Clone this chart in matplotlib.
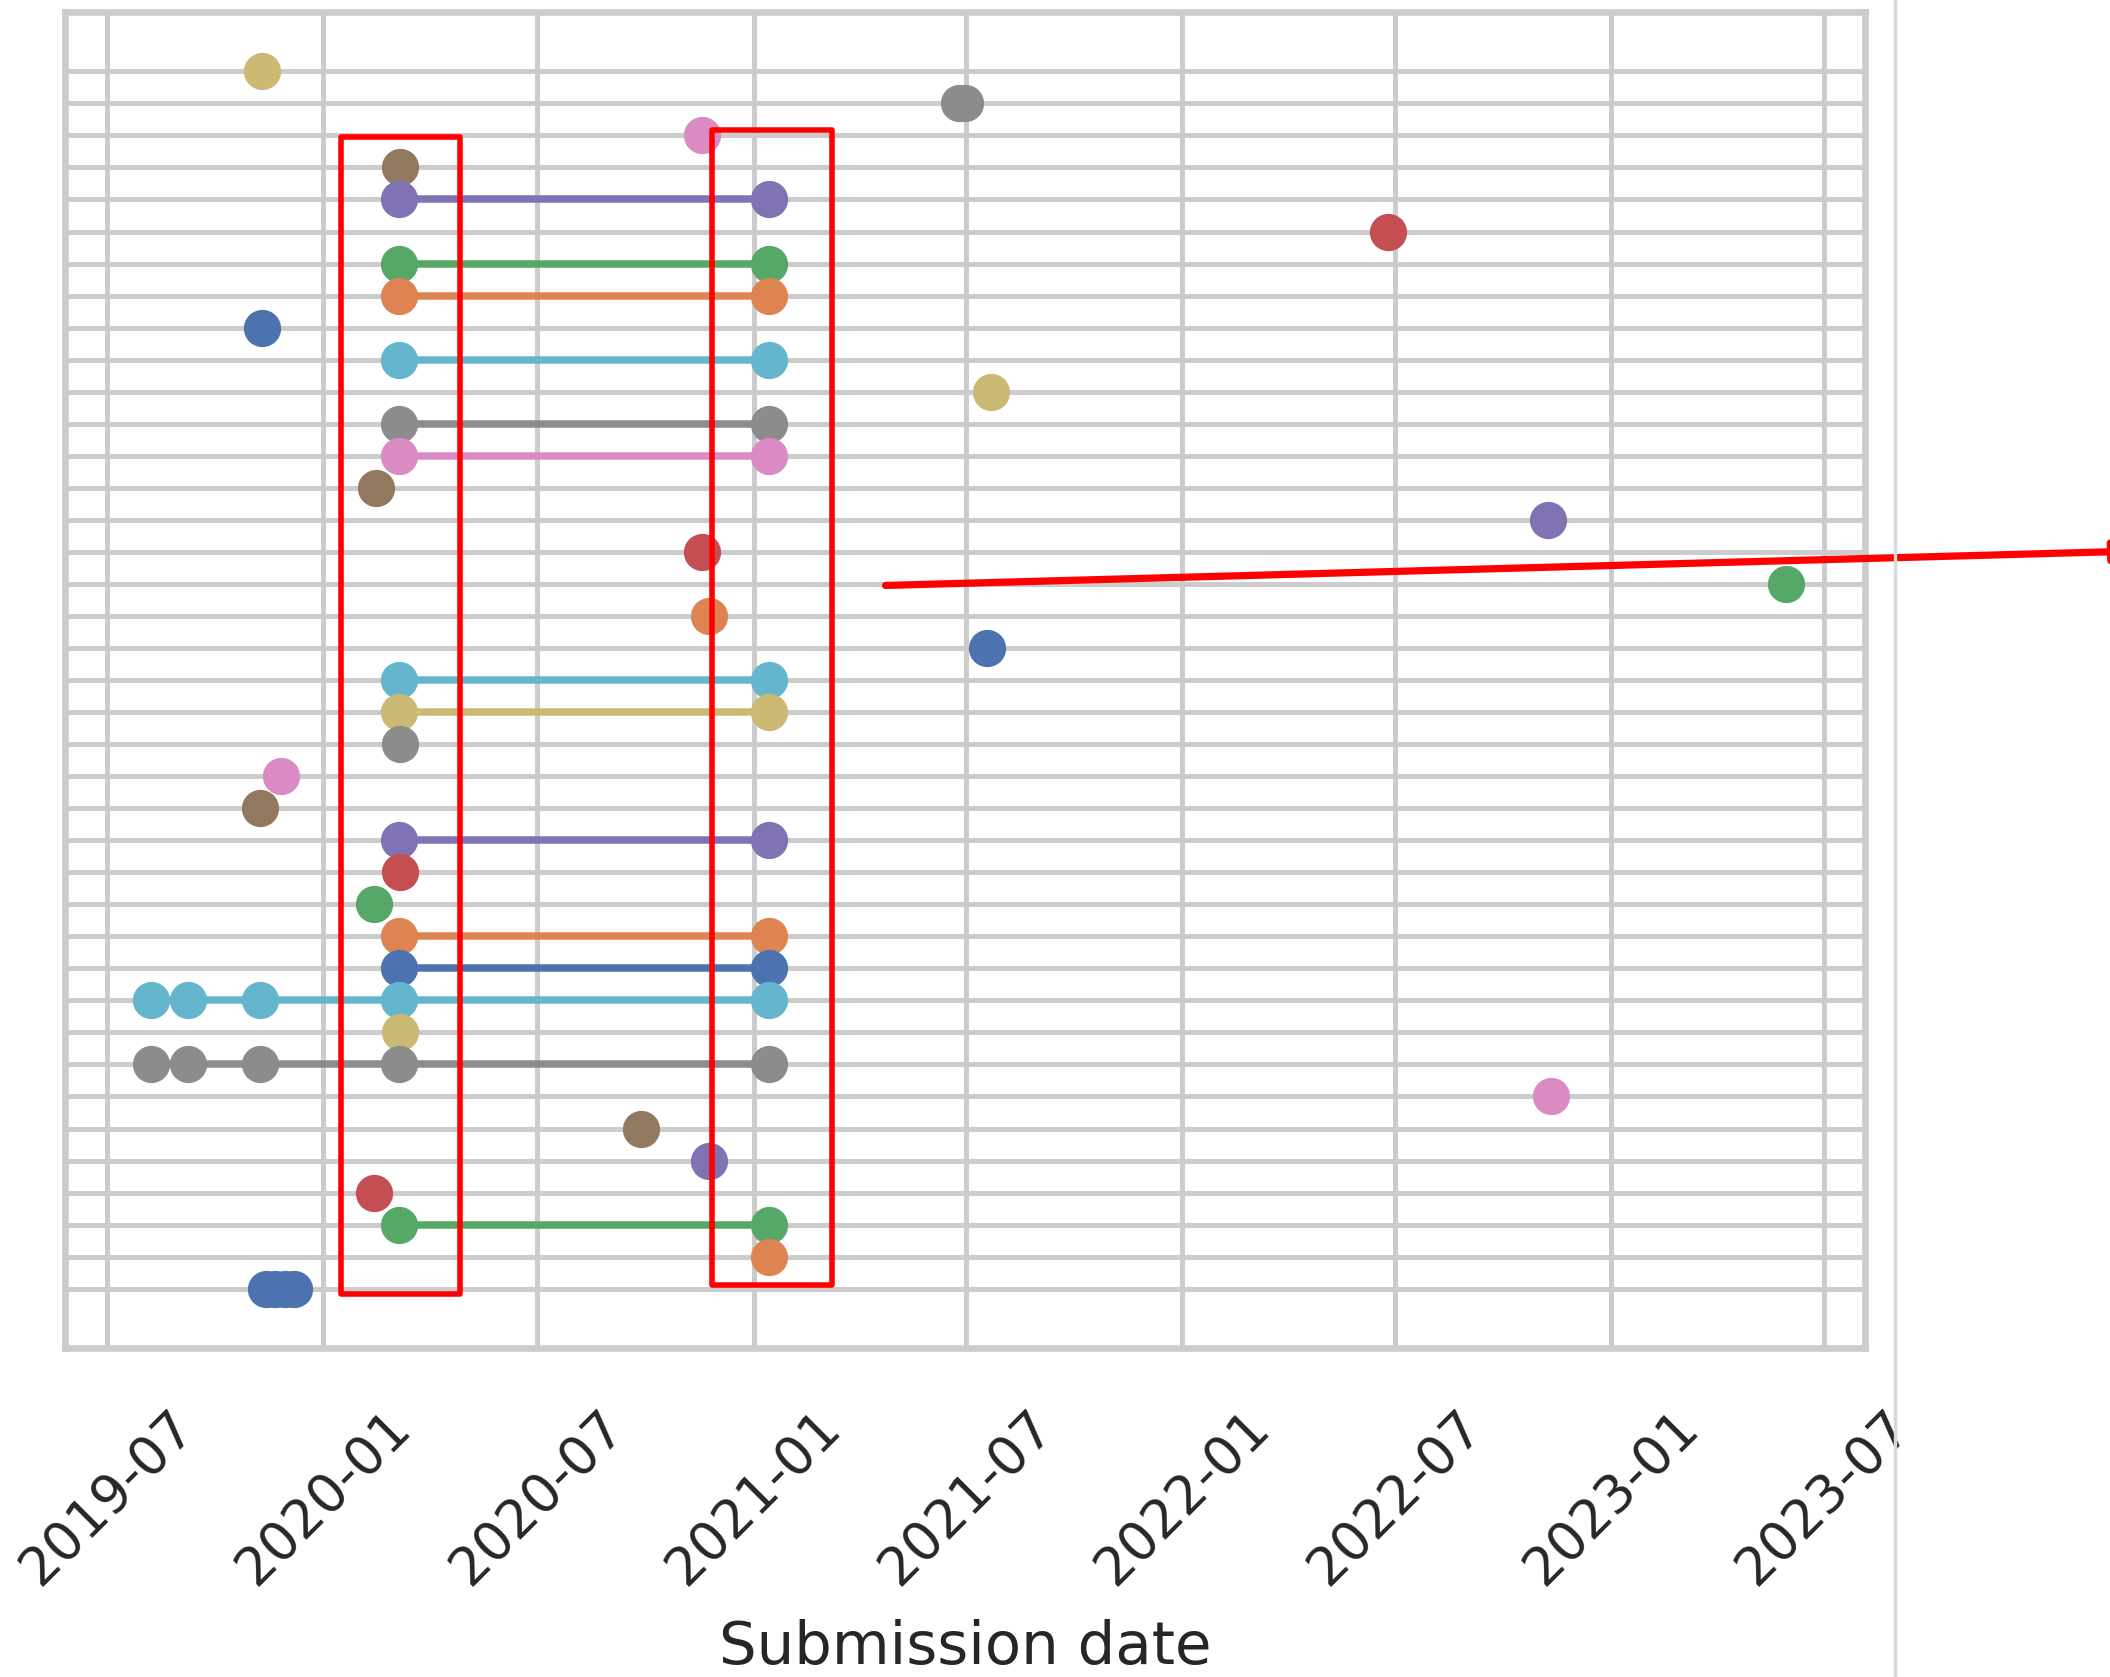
import matplotlib
matplotlib.use("Agg")
import matplotlib.pyplot as plt
import matplotlib.dates as mdates
import matplotlib.patches as mpatches
from matplotlib.lines import Line2D
import numpy as np
import pandas as pd
import seaborn as sns

# Submission dates of every version, one row per paper (row 0 at the bottom)
version_dates = [
    ["2019-11-13", "2019-11-21", "2019-11-29", "2019-12-07"],
    ["2021-01-14"],
    ["2020-03-05", "2021-01-14"],
    ["2020-02-13"],
    ["2020-11-24"],
    ["2020-09-27"],
    ["2022-11-11"],
    ["2019-08-07", "2019-09-08", "2019-11-08", "2020-03-05", "2021-01-14"],
    ["2020-03-06"],
    ["2019-08-07", "2019-09-08", "2019-11-08", "2020-03-05", "2021-01-14"],
    ["2020-03-05", "2021-01-14"],
    ["2020-03-05", "2021-01-14"],
    ["2020-02-13"],
    ["2020-03-06"],
    ["2020-03-05", "2021-01-14"],
    ["2019-11-08"],
    ["2019-11-26"],
    ["2020-03-06"],
    ["2020-03-05", "2021-01-14"],
    ["2020-03-05", "2021-01-14"],
    ["2021-07-19"],
    ["2020-11-24"],
    ["2023-05-30"],
    ["2020-11-18"],
    ["2022-11-08"],
    ["2020-02-15"],
    ["2020-03-05", "2021-01-14"],
    ["2020-03-05", "2021-01-14"],
    ["2021-07-22"],
    ["2020-03-05", "2021-01-14"],
    ["2019-11-10"],
    ["2020-03-05", "2021-01-14"],
    ["2020-03-05", "2021-01-14"],
    ["2022-06-25"],
    ["2020-03-05", "2021-01-14"],
    ["2020-03-06"],
    ["2020-11-18"],
    ["2021-06-25", "2021-06-30"],
    ["2019-11-10"],
]

# Highlight boxes around the two submission waves: (start, end, row_lo, row_hi)
wave_boxes = [
    ("2020-01-16", "2020-04-26", -0.17, 35.95),
    ("2020-11-27", "2021-03-09", 0.13, 36.17),
]

sns.set_theme(style="whitegrid", context="notebook", palette="deep")
plt.rcParams["font.family"] = ["DejaVu Sans"]
palette = sns.color_palette("deep", 10)

fig = plt.figure(figsize=(5.275, 4.1925), dpi=400)
ax = fig.add_axes([0.0308, 0.1962, 0.8531, 0.7966])

n_rows = len(version_dates)
# draw from the top row down so lower rows sit on top
for row in range(n_rows - 1, -1, -1):
    dates = pd.to_datetime(version_dates[row])
    ax.plot(dates, np.full(len(dates), row), "-o",
            color=palette[row % 10], lw=1.35, ms=6, mew=0.7,
            zorder=3 + (n_rows - row) * 0.01)

for start, end, lo, hi in wave_boxes:
    x0 = mdates.date2num(pd.Timestamp(start))
    x1 = mdates.date2num(pd.Timestamp(end))
    ax.add_patch(mpatches.Rectangle((x0, lo), x1 - x0, hi - lo, fill=False,
                                    edgecolor="red", lw=1.0, zorder=10,
                                    joinstyle="round", clip_on=False))

ax.set_xlim(pd.Timestamp("2019-05-26"), pd.Timestamp("2023-08-05"))
ax.set_ylim(-1.85, n_rows - 1 + 1.85)
ax.set_yticks(range(n_rows))
ax.set_yticklabels([])
ax.xaxis.set_major_locator(mdates.MonthLocator(bymonth=[1, 7]))
ax.xaxis.set_major_formatter(mdates.DateFormatter("%Y-%m"))
ax.tick_params(axis="x", length=0, pad=9.5, labelsize=9.6, labelrotation=45)
ax.tick_params(axis="y", length=0)
ax.grid(True, color="0.8", lw=0.9)
for s in ax.spines.values():
    s.set_color("0.8")
    s.set_linewidth(1.2)
ax.set_xlabel("Submission date", fontsize=10.7, labelpad=4.3)

# pointer out to the neighbouring panel and the panel separator
ax.annotate("", xy=(1.0125, 0.6714), xycoords="figure fraction",
            xytext=(0.4197, 0.6509), textcoords="figure fraction",
            arrowprops=dict(arrowstyle="-|>", color="red", lw=1.3,
                            mutation_scale=8, shrinkA=0, shrinkB=0))
fig.add_artist(Line2D([0.8981, 0.8981], [0, 1], transform=fig.transFigure,
                      color="0.85", lw=0.6))

fig.savefig("out.png", dpi=400)
